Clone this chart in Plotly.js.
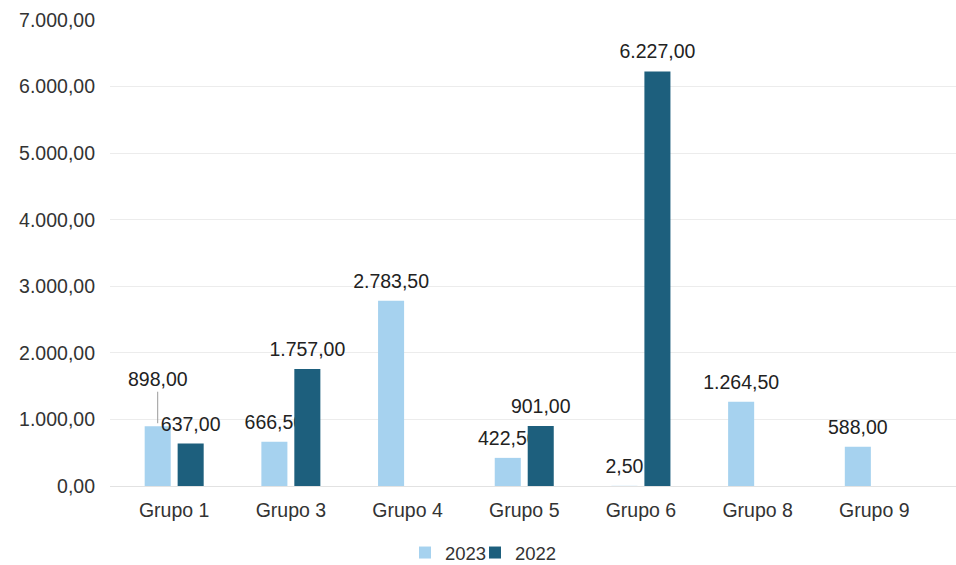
<!DOCTYPE html>
<html>
<head>
<meta charset="utf-8">
<script src="https://cdn.plot.ly/plotly-3.0.1.min.js"></script>
<style>
  html, body { margin: 0; padding: 0; background: #ffffff; }
  #chart { width: 956px; height: 565px; }
</style>
</head>
<body>
<div id="chart"></div>
<script>
// ---- data ----
const categories = ['Grupo 1', 'Grupo 3', 'Grupo 4', 'Grupo 5', 'Grupo 6', 'Grupo 8', 'Grupo 9'];
const values2023 = [898.00, 666.50, 2783.50, 422.50, 2.50, 1264.50, 588.00];
const values2022 = [637.00, 1757.00, null, 901.00, 6227.00, null, null];
const seriesNames = ['2023', '2022'];
const yTickValues = [0, 1000, 2000, 3000, 4000, 5000, 6000, 7000];
// label of 2023 / Grupo 1 is moved up with a leader line in the original
const displacedLabel2023 = 'Grupo 1';

// ---- helpers ----
function fmtEU(v) {
  const parts = v.toFixed(2).split('.');
  parts[0] = parts[0].replace(/\B(?=(\d{3})+(?!\d))/g, '.');
  return parts[0] + ',' + parts[1];
}
// invisible padding glyphs (symmetric) that lift the outside label a little above the bar
const PAD = '<span style="font-size:47px">\u00a0</span>';
function label(v) { return PAD + fmtEU(v) + PAD; }

const FONT = '"Liberation Sans", Arial, sans-serif';
const LIGHT = '#a6d2ef';
const DARK = '#1d5f7d';
const BARGAP = 0.435;
const BARGROUPGAP = 0.21;
const W = 956, H = 565;

const text2023 = values2023.map((v, i) => categories[i] === displacedLabel2023 ? '' : label(v));
const text2022 = values2022.map(v => v === null ? '' : label(v));

const traces = [
  {
    type: 'bar', name: seriesNames[0], x: categories, y: values2023,
    marker: { color: LIGHT },
    text: text2023, textposition: 'outside', cliponaxis: false, constraintext: 'none',
    textfont: { family: FONT, size: 19.5, color: '#222222' },
    hoverinfo: 'skip', legend: 'legend'
  },
  {
    type: 'bar', name: seriesNames[1], x: categories, y: values2022,
    marker: { color: DARK },
    text: text2022, textposition: 'outside', cliponaxis: false, constraintext: 'none',
    textfont: { family: FONT, size: 19.5, color: '#222222' },
    hoverinfo: 'skip', legend: 'legend2'
  }
];

// displaced label with leader line
const idx = categories.indexOf(displacedLabel2023);
const slotOffset = (1 - BARGAP) / 4;
const annotations = [{
  xref: 'x', yref: 'y',
  x: idx - slotOffset, y: values2023[idx],
  text: fmtEU(values2023[idx]),
  showarrow: true, arrowhead: 0, arrowwidth: 1, arrowcolor: '#9a9a9a',
  ax: 0, ay: -47, standoff: 3,
  font: { family: FONT, size: 19.5, color: '#222222' }
}];

const legendBase = {
  orientation: 'h',
  xref: 'container', yref: 'container',
  xanchor: 'left', y: 12 / H, yanchor: 'middle',
  font: { family: FONT, size: 18.5, color: '#333333' },
  itemwidth: 30, bgcolor: 'rgba(0,0,0,0)'
};

const layout = {
  width: W, height: H,
  margin: { l: 110, r: 0, t: 20, b: 79, pad: 0 },
  paper_bgcolor: '#ffffff', plot_bgcolor: '#ffffff',
  barmode: 'group', bargap: BARGAP, bargroupgap: BARGROUPGAP,
  font: { family: FONT, size: 19.5, color: '#333333' },
  xaxis: {
    type: 'category',
    range: [-0.55, 6.7],
    showgrid: false, zeroline: false, showline: false,
    ticks: '', ticklabelstandoff: 10,
    tickfont: { family: FONT, size: 19.5, color: '#333333' }
  },
  yaxis: {
    range: [0, 7000],
    tickvals: yTickValues,
    ticktext: yTickValues.map(fmtEU),
    showgrid: true, gridcolor: '#ececec', gridwidth: 1,
    zeroline: true, zerolinecolor: '#e2e2e2', zerolinewidth: 1,
    showline: false, ticks: '', ticklabelstandoff: 14,
    tickfont: { family: FONT, size: 19.5, color: '#333333' }
  },
  showlegend: true,
  legend: Object.assign({}, legendBase, { x: 405 / W }),
  legend2: Object.assign({}, legendBase, { x: 475 / W }),
  annotations: annotations
};

Plotly.newPlot('chart', traces, layout, { displayModeBar: false, staticPlot: true });
</script>
</body>
</html>
